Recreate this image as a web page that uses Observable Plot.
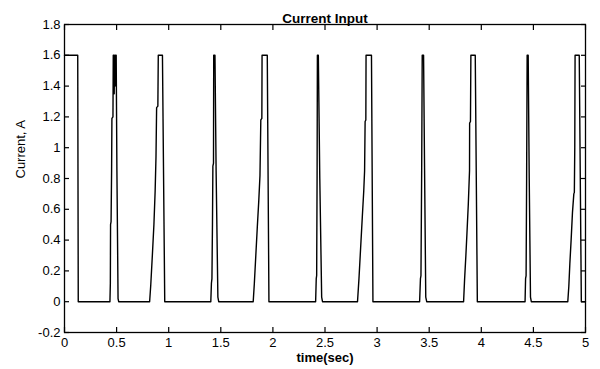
<!DOCTYPE html>
<html>
<head>
<meta charset="utf-8">
<script src="https://cdn.jsdelivr.net/npm/d3@7"></script>
<script src="https://cdn.jsdelivr.net/npm/@observablehq/plot@0.6"></script>
<style>
  html, body { margin: 0; padding: 0; background: #fff; }
</style>
</head>
<body>
<div id="chart"></div>
<script>
// Sampled current waveform: time in seconds, current in amperes
const time = [
  0, 0.127, 0.132,
  0.436, 0.440, 0.442, 0.447, 0.452, 0.455, 0.465, 0.468, 0.474, 0.477, 0.481, 0.485, 0.489, 0.496, 0.503, 0.514, 0.520,
  0.817, 0.828, 0.843, 0.858, 0.870, 0.878, 0.884, 0.896, 0.900, 0.940, 0.962,
  1.404, 1.410, 1.415, 1.420, 1.424, 1.430, 1.432, 1.444, 1.455, 1.472, 1.480,
  1.811, 1.822, 1.836, 1.850, 1.864, 1.876, 1.884, 1.894, 1.896, 1.946, 1.962,
  2.410, 2.416, 2.420, 2.424, 2.427, 2.436, 2.450, 2.468, 2.476,
  2.812, 2.826, 2.842, 2.858, 2.872, 2.880, 2.885, 2.892, 2.894, 2.946, 2.960,
  3.408, 3.416, 3.421, 3.428, 3.433, 3.446, 3.455, 3.467, 3.476,
  3.830, 3.840, 3.852, 3.862, 3.875, 3.887, 3.888, 3.896, 3.900, 3.942, 3.962,
  4.420, 4.425, 4.430, 4.435, 4.440, 4.450, 4.460, 4.472, 4.480,
  4.830, 4.840, 4.850, 4.862, 4.875, 4.888, 4.893, 4.897, 4.900, 4.940, 4.960, 5.000
];
const current = [
  1.6, 1.6, 0,
  0, 0.12, 0.50, 0.52, 0.85, 1.19, 1.20, 1.60, 1.60, 1.35, 1.60, 1.40, 1.60, 1.60, 0.85, 0.02, 0,
  0, 0.11, 0.30, 0.50, 0.72, 0.94, 1.26, 1.27, 1.60, 1.60, 0,
  0, 0.12, 0.15, 0.50, 0.88, 0.90, 1.60, 1.60, 0.85, 0.03, 0,
  0, 0.12, 0.30, 0.48, 0.65, 0.82, 1.18, 1.19, 1.60, 1.60, 0,
  0, 0.15, 0.17, 0.80, 1.60, 1.60, 0.80, 0.03, 0,
  0, 0.15, 0.35, 0.55, 0.72, 0.85, 1.17, 1.18, 1.60, 1.60, 0,
  0, 0.15, 0.17, 0.87, 1.60, 1.60, 0.90, 0.03, 0,
  0, 0.15, 0.30, 0.44, 0.63, 0.85, 1.16, 1.17, 1.60, 1.60, 0,
  0, 0.15, 0.17, 0.80, 1.60, 1.60, 0.80, 0.03, 0,
  0, 0.10, 0.25, 0.40, 0.58, 0.70, 0.71, 1.00, 1.60, 1.60, 0, 0
];

const xTicks = [0, 0.5, 1, 1.5, 2, 2.5, 3, 3.5, 4, 4.5, 5];
const yTicks = [-0.2, 0, 0.2, 0.4, 0.6, 0.8, 1, 1.2, 1.4, 1.6, 1.8];

const titleText = "Current Input";
const xLabel = "time(sec)";
const yLabel = "Current, A";

const samples = time.map((t, k) => ({t, a: current[k]}));
const fmt = d => String(+d.toFixed(1));
const blank = () => "";

const chart = Plot.plot({
  width: 600,
  height: 369,
  marginLeft: 64,
  marginRight: 15,
  marginTop: 24,
  marginBottom: 37,
  style: {
    fontFamily: "'Liberation Sans', Arial, Helvetica, sans-serif",
    fontSize: "13px",
    color: "#000",
    background: "#fff"
  },
  x: {domain: [0, 5]},
  y: {domain: [-0.2, 1.8]},
  marks: [
    Plot.line(samples, {x: "t", y: "a", stroke: "#000", strokeWidth: 1.4}),
    Plot.frame({stroke: "#000", strokeWidth: 1.3}),
    // inward ticks on all four sides
    Plot.axisX({ticks: xTicks, anchor: "bottom", tickSize: -5, tickFormat: blank, label: null, strokeWidth: 1.2}),
    Plot.axisX({ticks: xTicks, anchor: "top", tickSize: -5, tickFormat: blank, label: null, strokeWidth: 1.2}),
    Plot.axisY({ticks: yTicks, anchor: "left", tickSize: -5, tickFormat: blank, label: null, strokeWidth: 1.2}),
    Plot.axisY({ticks: yTicks, anchor: "right", tickSize: -5, tickFormat: blank, label: null, strokeWidth: 1.2}),
    // tick labels
    Plot.axisX({ticks: xTicks, anchor: "bottom", tickSize: 0, tickPadding: 5, tickFormat: fmt, label: null}),
    Plot.axisY({ticks: yTicks, anchor: "left", tickSize: 0, tickPadding: 4, tickFormat: fmt, label: null}),
    // title and axis labels
    Plot.text([titleText], {text: d => d, frameAnchor: "top", dy: -11, fontSize: 13.5, fontWeight: "bold"}),
    Plot.text([xLabel], {text: d => d, frameAnchor: "bottom", dy: 29, fontSize: 13, fontWeight: "bold"}),
    Plot.text([yLabel], {text: d => d, frameAnchor: "left", dx: -44, rotate: -90, fontSize: 13})
  ]
});

document.getElementById("chart").appendChild(chart);
</script>
</body>
</html>
